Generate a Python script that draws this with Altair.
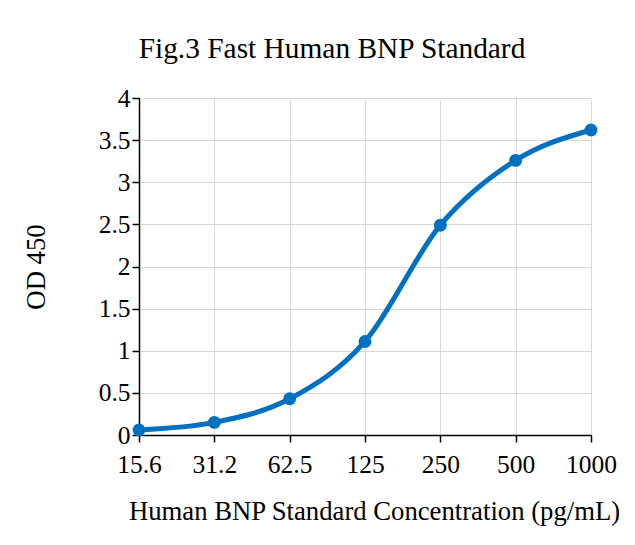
import altair as alt
import pandas as pd

concentrations = ["15.6", "31.2", "62.5", "125", "250", "500", "1000"]
od450 = [0.06, 0.15, 0.43, 1.11, 2.49, 3.26, 3.62]
y_ticks = [0, 0.5, 1, 1.5, 2, 2.5, 3, 3.5, 4]

df = pd.DataFrame({"conc": concentrations, "od": od450})

FONT = "Liberation Serif"
BLUE = "#0070C0"

x_enc = alt.X(
    "conc:N",
    sort=concentrations,
    scale=alt.Scale(padding=0),
    axis=alt.Axis(
        title="Human BNP Standard Concentration (pg/mL)",
        labelAngle=0,
        labelFontSize=25.5,
        titleFontSize=26.7,
        labelPadding=10,
        titlePadding=21,
        titleX=235,
        tickSize=7,
        grid=True,
    ),
)
y_enc = alt.Y(
    "od:Q",
    scale=alt.Scale(domain=[0, 4], nice=False),
    axis=alt.Axis(
        title="OD 450",
        values=y_ticks,
        format="~g",
        labelFontSize=25.5,
        titleFontSize=26.7,
        labelPadding=2,
        titlePadding=48,
        tickSize=7,
        grid=True,
    ),
)

line = alt.Chart(df).mark_line(
    color=BLUE, strokeWidth=5, interpolate="monotone"
).encode(x=x_enc, y=y_enc)

points = alt.Chart(df).mark_point(
    color=BLUE, filled=True, opacity=1, size=165
).encode(x=x_enc, y=y_enc)

chart = (
    alt.layer(line, points)
    .properties(
        width=452,
        height=337,
        title=alt.TitleParams(
            "Fig.3 Fast Human BNP Standard",
            fontSize=29.4,
            font=FONT,
            fontWeight="normal",
            color="black",
            dx=-33,
            offset=22,
        ),
        autosize=alt.AutoSizeParams(type="none"),
        padding={"left": 131, "top": 90, "right": 28, "bottom": 102},
    )
    .configure_view(stroke=None)
    .configure_axis(
        labelFont=FONT,
        titleFont=FONT,
        labelColor="black",
        titleColor="black",
        titleFontWeight="normal",
        domainColor="black",
        domainWidth=1.5,
        tickColor="black",
        tickWidth=1.5,
        gridColor="#d9d9d9",
        gridWidth=1,
    )
)

chart.save("out.html", embed_options={"renderer": "svg", "actions": False})
